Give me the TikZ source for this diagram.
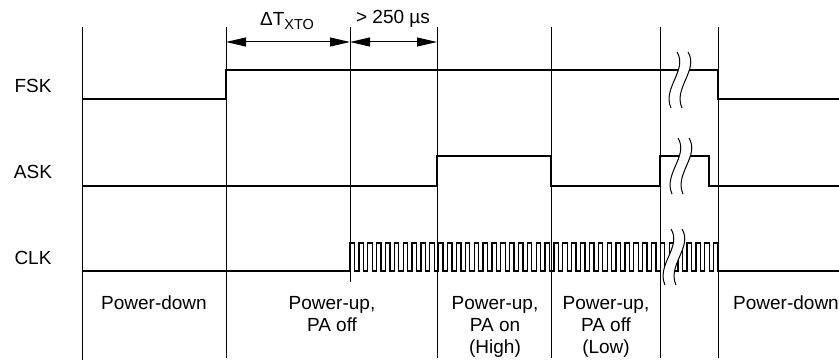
\documentclass[tikz,border=0pt]{standalone}
\usepackage{fontspec}
\setmainfont{Liberation Sans}
\usetikzlibrary{arrows.meta}

\tikzset{
  brkmark/.pic={
    \fill[white] (3,-28) .. controls (14,-10) and (-12,8) .. (-3,28)
      -- (8,28) .. controls (-1,8) and (25,-10) .. (14,-28) -- cycle;
    \draw[line width=1pt] (3,-28) .. controls (14,-10) and (-12,8) .. (-3,28);
    \draw[line width=1pt] (14,-28) .. controls (25,-10) and (-1,8) .. (8,28);
  }
}

\begin{document}
\begin{tikzpicture}[x=1pt,y=-1pt,
    gridline/.style={line width=1pt},
    sig/.style={line width=2pt},
    clk/.style={line width=1.3pt},
    lbl/.style={font=\fontsize{19}{22}\selectfont,align=center,inner sep=0pt},
    dim/.style={line width=1pt,{Triangle[length=20pt,width=9pt]}-{Triangle[length=20pt,width=9pt]}}]
  \useasboundingbox (0,0) rectangle (839,361);

  % time marks
  \foreach \x/\b in {82/360,226/358,350/282,437/358,551/358,660/358,718/358}
    \draw[gridline] (\x,27) -- (\x,\b);

  % signal names
  \node[lbl] (fsk) at (33,86) {FSK};
  \node[lbl] (ask) at (33,172) {ASK};
  \node[lbl] (clkname) at (33,258) {CLK};

  % signals
  \draw[sig] (82,99) -- (226,99) -- (226,70) -- (718,70) -- (718,99) -- (839,99);
  \draw[sig] (82,186) -- (437,186) -- (437,156) -- (551,156) -- (551,186)
    -- (660,186) -- (660,156) -- (709,156) -- (709,186) -- (839,186);
  \draw[clk] (82,271) -- (350,271)
    \foreach \i in {0,...,41} { -- ++(0,-28) -- ++(4.434,0) -- ++(0,28) -- ++(4.434,0) }
    -- (839,271);

  % breaks
  \pic at (674,80) {brkmark};
  \pic at (675,166) {brkmark};
  \pic at (668,257) {brkmark};

  % timing arrows
  \coordinate (a1) at (226,42);
  \coordinate (a2) at (350,42);
  \coordinate (a3) at (437,42);
  \draw[dim] (a1) -- (a2);
  \draw[dim] (a2) -- (a3);
  \node[lbl,anchor=base] (dxto) at (287,26)
    {ΔT\raisebox{-4pt}{\fontsize{14.5}{16}\selectfont XTO}};
  \node[lbl,anchor=base] (t250) at (393,24) {> 250 µs};

  % states
  \node[lbl,anchor=north] (s1) at (154,296) {Power-down};
  \node[lbl,anchor=north] (s2) at (332,296) {Power-up,\\PA off};
  \node[lbl,anchor=north] (s3) at (495,296) {Power-up,\\PA on\\(High)};
  \node[lbl,anchor=north] (s4) at (606,296) {Power-up,\\PA off\\(Low)};
  \node[lbl,anchor=north] (s5) at (786,296) {Power-down};
\end{tikzpicture}
\end{document}
